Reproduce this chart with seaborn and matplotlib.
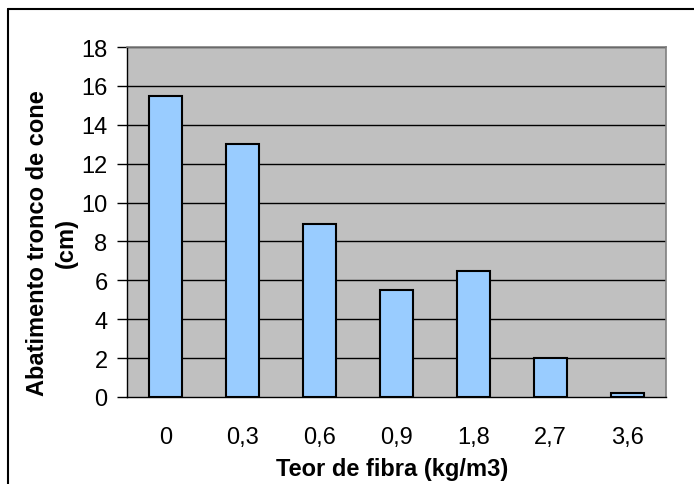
import matplotlib
matplotlib.use("Agg")
import matplotlib.pyplot as plt
import seaborn as sns
import pandas as pd
from matplotlib.lines import Line2D

categories = ["0", "0,3", "0,6", "0,9", "1,8", "2,7", "3,6"]
values = [15.5, 13.0, 8.9, 5.5, 6.5, 2.0, 0.2]

sns.set_theme(style="white")
plt.rcParams['font.family'] = ['Liberation Sans', 'DejaVu Sans']
plt.rcParams['text.color'] = 'black'
plt.rcParams['axes.labelcolor'] = 'black'
plt.rcParams['xtick.color'] = 'black'
plt.rcParams['ytick.color'] = 'black'

df = pd.DataFrame({"cat": categories, "val": values})

W, H = 694, 485
fig = plt.figure(figsize=(6.94, 4.85), dpi=100)
ax = fig.add_axes([127/W, 87/H, 539/W, 350/H])
ax.set_facecolor("#c0c0c0")
ax.set_axisbelow(True)
for y in range(2, 19, 2):
    ax.axhline(y, color="black", lw=1, zorder=0.5)

sns.barplot(data=df, x="cat", y="val", ax=ax, color="#99ccff", width=0.43,
            edgecolor="black", linewidth=1.5, saturation=1, zorder=2)

ax.set_ylim(0, 18)
ax.set_xlim(-0.5, 6.5)
ax.set_yticks(range(0, 19, 2))
ax.set_xticks(range(7))
ax.set_xticks([i - 0.5 for i in range(8)], minor=True)
ax.tick_params(axis="x", which="major", length=0, pad=21, labelsize=17, labelcolor="black")
ax.tick_params(axis="x", which="minor", length=7, width=1, color="black", direction="out")
ax.tick_params(axis="y", length=7, width=1, color="black", direction="out", pad=7,
               labelsize=17, left=True, labelcolor="black")
ax.set_xticklabels(categories)

for s in ["top", "right"]:
    ax.spines[s].set_color("#808080")
    ax.spines[s].set_linewidth(1.2)
for s in ["left", "bottom"]:
    ax.spines[s].set_color("black")
    ax.spines[s].set_linewidth(1)

ax.set_xlabel("Teor de fibra (kg/m3)", fontsize=17, fontweight="bold", color="black")
ax.xaxis.set_label_coords(0.492, -0.172)
ax.set_ylabel("Abatimento tronco de cone\n(cm)", fontsize=17, fontweight="bold",
              linespacing=1.3, color="black")
ax.yaxis.label.set_va("center")
ax.yaxis.label.set_ha("center")
ax.yaxis.set_label_coords(-0.139, 0.443)

# outer chart frame (only top and left edges visible in the image)
fig.add_artist(Line2D([8/W, 1.0], [1 - 10/H, 1 - 10/H], transform=fig.transFigure,
                      color="black", lw=1.5))
fig.add_artist(Line2D([8/W, 8/W], [0, 1 - 10/H], transform=fig.transFigure,
                      color="black", lw=1.5))

fig.savefig("out.png", dpi=100)
